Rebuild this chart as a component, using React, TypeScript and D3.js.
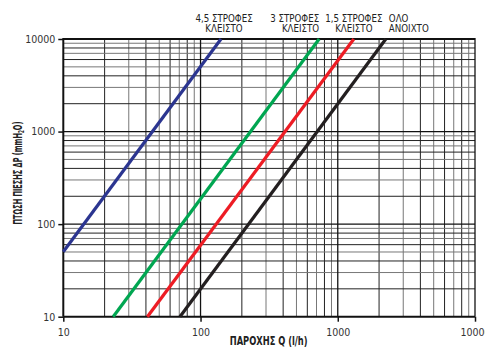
import React, { useEffect, useRef } from 'react';
import * as d3 from 'd3';

// flow rate Q (l/h) at the two ends of each curve
const flowBlue = [10, 141];
const flowGreen = [23.1, 732];
const flowRed = [41, 1309];
const flowBlack = [70.8, 2240];
// pressure drop (mmH2O) at those ends
const dpBlue = [50.4, 10000];
const dpGreen = [10, 10000];
const dpRed = [10, 10000];
const dpBlack = [10, 10000];

const seriesNames = ['4,5 ΣΤΡΟΦΕΣ|ΚΛΕΙΣΤΟ', '3 ΣΤΡΟΦΕΣ|ΚΛΕΙΣΤΟ', '1,5 ΣΤΡΟΦΕΣ|ΚΛΕΙΣΤΟ', 'ΟΛΟ|ΑΝΟΙΧΤΟ'];
const seriesColors = ['#2b3590', '#00a651', '#ed1c24', '#231f20'];

const xTicks = [10, 100, 1000, 10000];
const yTicks = [10, 100, 1000, 10000];

const W = 485, H = 349;

// squeeze a text horizontally (along its own axis) to a wanted width
function squeeze(node: SVGTextElement | null, want: number) {
  if (!node) return 1;
  const len = node.getComputedTextLength();
  return len > 0 ? want / len : 1;
}

function App() {
  const ref = useRef<SVGSVGElement>(null);

  useEffect(() => {
    const svg = d3.select(ref.current);
    svg.selectAll('*').remove();

    const margin = { top: 39, right: 10, bottom: 32.3, left: 63.3 };
    const font = "'DejaVu Sans Condensed', 'Liberation Sans Narrow', sans-serif";

    const x = d3.scaleLog().domain([10, 10000]).range([margin.left, W - margin.right]);
    const y = d3.scaleLog().domain([10, 10000]).range([H - margin.bottom, margin.top]);

    const minors: number[] = [];
    for (let d = 10; d < 10000; d *= 10) {
      for (let k = 2; k <= 9; k++) minors.push(d * k);
    }

    const grid = svg.append('g');
    grid.selectAll('line.vx')
      .data(minors)
      .join('line')
      .attr('x1', d => x(d)).attr('x2', d => x(d))
      .attr('y1', y(10)).attr('y2', y(10000))
      .attr('stroke', (d, i) => (i % 2 === 0 ? '#222' : '#777'))
      .attr('stroke-width', 1);
    grid.selectAll('line.hy')
      .data(minors)
      .join('line')
      .attr('y1', d => y(d)).attr('y2', d => y(d))
      .attr('x1', x(10)).attr('x2', x(10000))
      .attr('stroke', (d, i) => (i % 2 === 0 ? '#222' : '#777'))
      .attr('stroke-width', 1);
    grid.selectAll('line.dx')
      .data(xTicks)
      .join('line')
      .attr('x1', d => x(d)).attr('x2', d => x(d))
      .attr('y1', y(10)).attr('y2', y(10000) - 1)
      .attr('stroke', '#111')
      .attr('stroke-width', d => (d === 10 ? 2 : 1.3));
    grid.selectAll('line.dy')
      .data(yTicks)
      .join('line')
      .attr('y1', d => y(d)).attr('y2', d => y(d))
      .attr('x1', x(10)).attr('x2', x(10000))
      .attr('stroke', '#111')
      .attr('stroke-width', d => (d === 10 || d === 10000 ? 2 : 1.3));

    const xAxis = d3.axisBottom(x).tickValues(xTicks).tickFormat(d3.format('d')).tickSizeOuter(0).tickSize(5);
    svg.append('g')
      .attr('transform', `translate(0,${y(10)})`)
      .call(xAxis)
      .call(g => g.select('.domain').remove())
      .call(g => g.selectAll('line').attr('stroke', '#111').attr('stroke-width', 1.5))
      .call(g => g.selectAll('text').attr('font-family', font).attr('font-size', 10.5).attr('fill', '#333').attr('dy', '1.1em'));

    const yAxis = d3.axisLeft(y).tickValues(yTicks).tickFormat(d3.format('d')).tickSizeOuter(0).tickSize(5);
    svg.append('g')
      .attr('transform', `translate(${x(10)},0)`)
      .call(yAxis)
      .call(g => g.select('.domain').remove())
      .call(g => g.selectAll('line').attr('stroke', '#111').attr('stroke-width', 1.5))
      .call(g => g.selectAll('text').attr('font-family', font).attr('font-size', 10.5).attr('fill', '#333').attr('x', -8));

    const flows = [flowBlue, flowGreen, flowRed, flowBlack];
    const drops = [dpBlue, dpGreen, dpRed, dpBlack];
    const line = d3.line<[number, number]>().x(d => x(d[0])).y(d => y(d[1]));

    svg.append('g')
      .selectAll('path')
      .data(flows.map((f, i) => f.map((q, j) => [q, drops[i][j]] as [number, number])))
      .join('path')
      .attr('d', d => line(d))
      .attr('fill', 'none')
      .attr('stroke', (d, i) => seriesColors[i])
      .attr('stroke-width', 3.2);

    // curve labels above the top ends, squeezed like the condensed original
    const anchors = ['middle', 'end', 'middle', 'start'];
    const offsets = [3, 0, 0, 3];
    seriesNames.forEach((name, i) => {
      const ax = x(flows[i][1]) + offsets[i];
      const g = svg.append('g').attr('transform', `translate(${ax},0) scale(0.92,1)`);
      const t = g.append('text')
        .attr('font-family', font)
        .attr('font-size', 10.5)
        .attr('fill', '#222')
        .attr('text-anchor', anchors[i]);
      name.split('|').forEach((part, k) => {
        t.append('tspan').attr('x', 0).attr('y', 22.5 + k * 10).text(part);
      });
    });

    const xt = svg.append('text')
      .attr('text-anchor', 'middle')
      .attr('font-family', font)
      .attr('font-weight', 'bold')
      .attr('font-size', 11.5)
      .attr('fill', '#222')
      .text('ΠΑΡΟΧΗΣ Q (l/h)');
    const sx = squeeze(xt.node(), 78);
    xt.attr('transform', `translate(${(x(10) + x(10000)) / 2 - 0.5},345) scale(${sx},1)`);

    const yt = svg.append('text')
      .attr('text-anchor', 'middle')
      .attr('font-family', font)
      .attr('font-weight', 'bold')
      .attr('font-size', 12.5)
      .attr('fill', '#222');
    yt.append('tspan').text('ΠΤΩΣΗ ΠΙΕΣΗΣ ΔP (mmH');
    yt.append('tspan').attr('font-size', 8).attr('dy', 2.5).text('2');
    yt.append('tspan').attr('dy', -2.5).text('O)');
    const sy = squeeze(yt.node(), 103);
    yt.attr('transform', `translate(21.5,173) rotate(-90) scale(${sy},1)`);
  }, []);

  return (
    <svg ref={ref} width={W} height={H} style={{ position: 'absolute', left: 0, top: 0, background: '#fff' }} />
  );
}

export default App;
